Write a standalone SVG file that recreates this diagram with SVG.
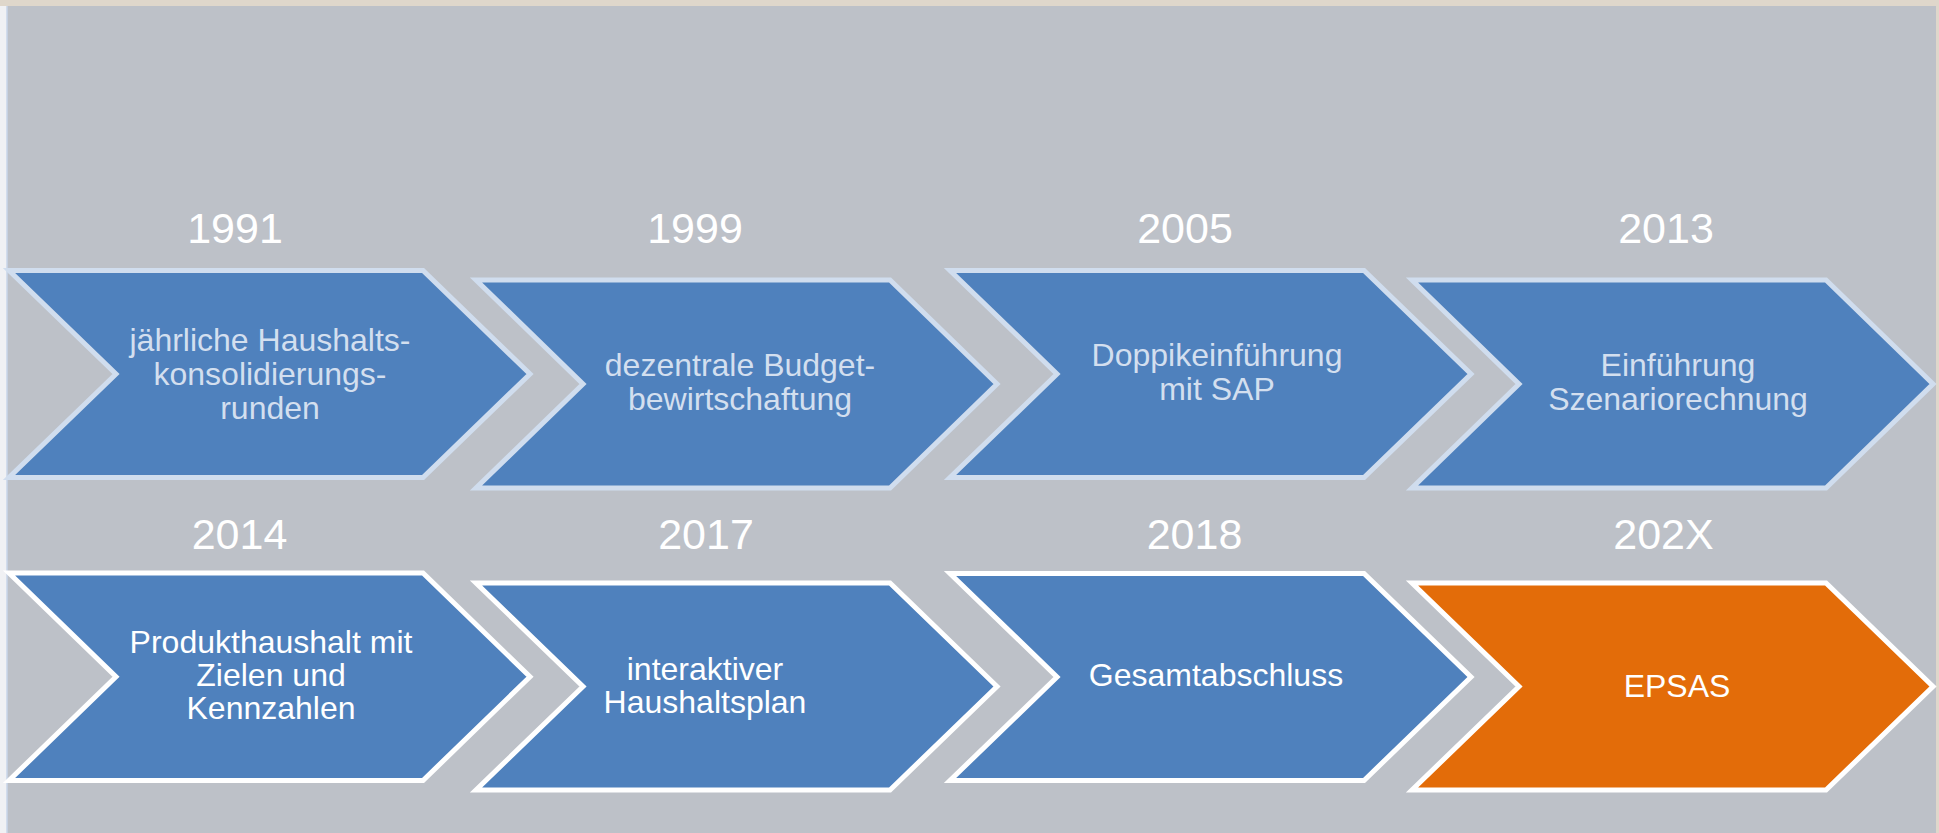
<svg xmlns="http://www.w3.org/2000/svg" width="1939" height="833" viewBox="0 0 1939 833">
<style>
.bg{fill:#DFD7CB}
.panel{fill:#BDC1C8}
.chev{fill:#4F81BD;stroke-width:5;stroke-linejoin:miter;stroke-miterlimit:10}
.r1{stroke:#D0DDEE}
.r2{stroke:#FFFFFF}
.orange{fill:#E36C09;stroke:#FFFFFF}
.year{font-family:"Liberation Sans",Arial,sans-serif;font-size:43px;fill:#FFFFFF;text-anchor:middle}
.lbl{font-family:"Liberation Sans",Arial,sans-serif;font-size:32px;text-anchor:middle}
.l1{fill:#D3DFEF}
.l2{fill:#FFFFFF}
</style>
<rect class="bg" x="0" y="0" width="1939" height="833"/>
<rect x="0" y="6" width="7" height="827" fill="#F0F1F4"/>
<rect class="panel" x="7" y="6" width="1929" height="827"/>
<line x1="7" y1="6" x2="7" y2="833" stroke="#C8D4EA" stroke-width="1.5"/>

<g id="years">
<text class="year" x="235" y="242.5">1991</text>
<text class="year" x="695" y="242.5">1999</text>
<text class="year" x="1185" y="242.5">2005</text>
<text class="year" x="1666" y="242.5">2013</text>
<text class="year" x="239.5" y="549">2014</text>
<text class="year" x="706" y="549">2017</text>
<text class="year" x="1194.5" y="549">2018</text>
<text class="year" x="1663.5" y="549">202X</text>
</g>

<g id="connectors"></g>

<g id="n1991">
<polygon class="chev r1" points="9,270.5 423,270.5 530,374 423,477.5 9,477.5 116,374"/>
<text class="lbl l1" x="270" y="351">jährliche Haushalts-</text>
<text class="lbl l1" x="270" y="385">konsolidierungs-</text>
<text class="lbl l1" x="270" y="419">runden</text>
</g>
<g id="n1999">
<polygon class="chev r1" points="476,280 890,280 997,384 890,488 476,488 583,384"/>
<text class="lbl l1" x="740" y="376">dezentrale Budget-</text>
<text class="lbl l1" x="740" y="410">bewirtschaftung</text>
</g>
<g id="n2005">
<polygon class="chev r1" points="950,270.5 1364,270.5 1471,374 1364,477.5 950,477.5 1057,374"/>
<text class="lbl l1" x="1217" y="366">Doppikeinführung</text>
<text class="lbl l1" x="1217" y="400">mit SAP</text>
</g>
<g id="n2013">
<polygon class="chev r1" points="1412,280 1826,280 1933,384 1826,488 1412,488 1519,384"/>
<text class="lbl l1" x="1678" y="376">Einführung</text>
<text class="lbl l1" x="1678" y="410">Szenariorechnung</text>
</g>

<g id="n2014">
<polygon class="chev r2" points="9,573 423,573 530,676.75 423,780.5 9,780.5 116,676.75"/>
<text class="lbl l2" x="271" y="653">Produkthaushalt mit</text>
<text class="lbl l2" x="271" y="686">Zielen und</text>
<text class="lbl l2" x="271" y="719">Kennzahlen</text>
</g>
<g id="n2017">
<polygon class="chev r2" points="476,583 890,583 997,686.5 890,790 476,790 583,686.5"/>
<text class="lbl l2" x="705" y="680">interaktiver</text>
<text class="lbl l2" x="705" y="713">Haushaltsplan</text>
</g>
<g id="n2018">
<polygon class="chev r2" points="950,573.5 1364,573.5 1471,677 1364,780.5 950,780.5 1057,677"/>
<text class="lbl l2" x="1216" y="686">Gesamtabschluss</text>
</g>
<g id="n202X">
<polygon class="chev orange" points="1412,583 1826,583 1933,686.5 1826,790 1412,790 1519,686.5"/>
<text class="lbl l2" x="1677" y="697">EPSAS</text>
</g>
</svg>
